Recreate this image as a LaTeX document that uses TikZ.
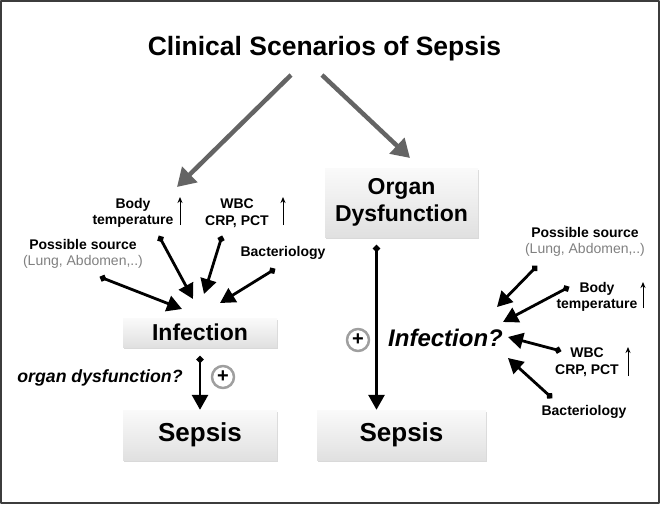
\documentclass[tikz,border=0pt]{standalone}
\usepackage{fontspec}
\setmainfont{Liberation Sans}
\usetikzlibrary{arrows.meta,shadows}
\definecolor{arrgray}{HTML}{646464}
\definecolor{framegray}{HTML}{3C3C3C}
\tikzset{
  box/.style={top color=gray!4,bottom color=gray!24,
    drop shadow={shadow xshift=0.8pt,shadow yshift=-1.5pt,opacity=.3},
    font=\fontsize{23}{26}\selectfont\bfseries,align=center,inner sep=0pt},
  lbl/.style={font=\fontsize{14}{16.5}\selectfont\bfseries,align=center,inner sep=0pt},
  bigarrow/.style={-{Triangle[length=18pt,width=21pt]},line width=4.5pt,draw=arrgray},
  inarrow/.style={{Circle[length=6.5pt]}-{Triangle[length=15pt,width=16pt]},line width=2.8pt},
  uparrow/.style={-{Stealth[length=6pt,width=5pt]},line width=1pt},
  plus/.style={circle,draw=gray!75,line width=2.5pt,inner sep=0pt,minimum size=22pt,
    font=\fontsize{20}{20}\selectfont\bfseries},
}
\begin{document}
\begin{tikzpicture}[x=1pt,y=-1pt,line join=round]
\useasboundingbox (0,0) rectangle (661,504);
\draw[framegray,line width=2.5pt] (1.2,1.2) rectangle (658.8,502.8);
% title
\node[font=\fontsize{26.5}{30}\selectfont\bfseries,anchor=base] (title) at (324.5,55) {Clinical Scenarios of Sepsis};
\coordinate (tl) at (291,75);
\coordinate (tr) at (322,75);
\coordinate (gl) at (177,187);
\coordinate (gr) at (410,158);
\draw[bigarrow] (tl)--(gl);
\draw[bigarrow] (tr)--(gr);
% boxes
\node[box,minimum width=154pt,minimum height=29pt] (inf) at (200,332.5) {Infection};
\node[box,minimum width=154pt,minimum height=50pt,font=\fontsize{26}{28}\selectfont\bfseries] (sepL) at (200,435) {Sepsis};
\node[box,minimum width=153pt,minimum height=69pt,font=\fontsize{23}{27}\selectfont\bfseries] (org) at (401.5,202.5) {Organ\\Dysfunction};
\node[box,minimum width=169pt,minimum height=50pt,font=\fontsize{26}{28}\selectfont\bfseries] (sepR) at (401.5,435) {Sepsis};
% left scenario
\node[lbl] (bodyL) at (133,213) {Body\\temperature};
\node[lbl] (wbcL) at (237,213) {WBC\\CRP, PCT};
\node[lbl] (srcL) at (83,254) {Possible source\\{\mdseries\color{gray}(Lung, Abdomen,..)}};
\node[lbl] (bacL) at (283,253) {Bacteriology};
\draw[uparrow] (180,225)--(180,197);
\draw[uparrow] (283,225)--(283,197);
\coordinate (s1) at (100,277); \coordinate (e1) at (182,309);
\coordinate (s2) at (159,236); \coordinate (e2) at (193,299);
\coordinate (s3) at (222,236); \coordinate (e3) at (204,294);
\coordinate (s4) at (275,269); \coordinate (e4) at (220,303);
\foreach \s/\e in {s1/e1,s2/e2,s3/e3,s4/e4}
  \draw[inarrow] (\s)--(\e);
\draw[inarrow] ([yshift=-9pt]inf.south)--(sepL.north);
\node[font=\fontsize{17.7}{20}\selectfont\bfseries\itshape] (odq) at (100,378) {organ dysfunction?};
\node[plus] (plusL) at (223,377) {+};
% right scenario
\draw[inarrow] ([xshift=-25pt,yshift=-8pt]org.south)--([xshift=-25pt]sepR.north);
\node[plus] (plusR) at (358,340) {+};
\node[font=\fontsize{24}{26}\selectfont\bfseries\itshape] (infq) at (445.5,338) {Infection?};
\node[lbl] (srcR) at (585,242) {Possible source\\{\mdseries\color{gray}(Lung, Abdomen,..)}};
\node[lbl] (bodyR) at (597,297) {Body\\temperature};
\node[lbl] (wbcR) at (587,362) {WBC\\CRP, PCT};
\node[lbl] (bacR) at (584,412) {Bacteriology};
\draw[uparrow] (643,308)--(643,282);
\draw[uparrow] (628,376)--(628,347);
\coordinate (r1) at (537,266); \coordinate (f1) at (497,307);
\coordinate (r2) at (569,287); \coordinate (f2) at (503,322);
\coordinate (r3) at (561,351); \coordinate (f3) at (508,337);
\coordinate (r4) at (552,398); \coordinate (f4) at (508,358);
\foreach \s/\e in {r1/f1,r2/f2,r3/f3,r4/f4}
  \draw[inarrow] (\s)--(\e);
\end{tikzpicture}
\end{document}
